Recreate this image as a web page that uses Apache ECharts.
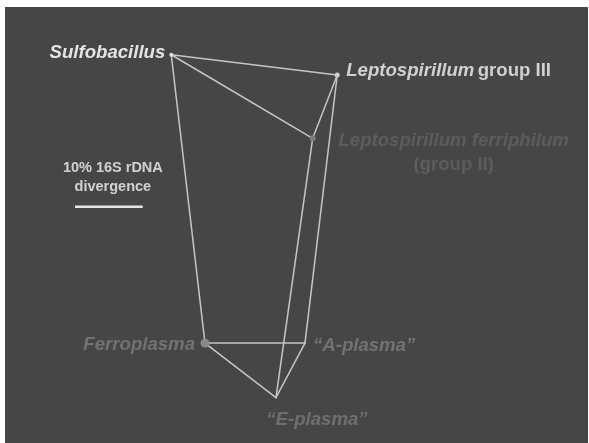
<!DOCTYPE html>
<html>
<head>
<meta charset="utf-8">
<script src="https://cdn.jsdelivr.net/npm/echarts@6/dist/echarts.min.js"></script>
<style>html,body{margin:0;padding:0;background:#fff}#c{width:589px;height:443px}</style>
</head>
<body>
<div id="c"></div>
<script>
// Node positions in units of % 16S rDNA divergence (same scale on both axes)
const nodeNames = ['Sulfobacillus', 'Leptospirillum group III', 'Leptospirillum ferriphilum', 'Ferroplasma', 'A-plasma', 'E-plasma'];
const nodeX = [24.56, 49.08, 45.45, 29.54, 44.31, 40.03];
const nodeY = [7.05, 10.04, 19.39, 49.65, 49.65, 57.71];
const edgeSource = ['Sulfobacillus', 'Sulfobacillus', 'Sulfobacillus', 'Leptospirillum group III', 'Leptospirillum group III', 'Leptospirillum ferriphilum', 'Ferroplasma', 'Ferroplasma', 'A-plasma'];
const edgeTarget = ['Leptospirillum group III', 'Leptospirillum ferriphilum', 'Ferroplasma', 'Leptospirillum ferriphilum', 'A-plasma', 'E-plasma', 'A-plasma', 'E-plasma', 'E-plasma'];
const scaleBarX = [10.34, 20.34];
const scaleBarY = [29.5, 29.5];
const scaleLabel = '10% 16S rDNA\ndivergence';
const xRange = [0, 86.12];
const yRange = [0, 64.4];

const FONT = '"Liberation Sans", Arial, Helvetica, sans-serif';
const FS = 18.6;
const bi = {fontFamily: FONT, fontWeight: 'bold', fontStyle: 'italic', fontSize: FS};
const styles = {
  'Sulfobacillus': {sym: 4, col: '#dcdcdc', label: {formatter: '{i|Sulfobacillus}', align: 'right', offset: [-6, -2], rich: {i: Object.assign({}, bi, {color: '#e4e4e4'})}}},
  'Leptospirillum group III': {sym: 5, col: '#cfcfcf', label: {formatter: '{i|Leptospirillum} {b|group III}', align: 'left', offset: [9, -4], rich: {i: Object.assign({}, bi, {color: '#d0d0d0'}), b: {fontFamily: FONT, fontWeight: 'bold', fontSize: FS, color: '#d0d0d0'}}}},
  'Leptospirillum ferriphilum': {sym: 6, col: '#7c7c7c', label: {formatter: '{i|Leptospirillum ferriphilum}\n{b|(group II)}', align: 'center', offset: [141, 15], rich: {i: Object.assign({}, bi, {color: '#5c5c5c', lineHeight: 24, align: 'center'}), b: {fontFamily: FONT, fontWeight: 'bold', fontSize: FS, color: '#5c5c5c', lineHeight: 24, align: 'center'}}}},
  'Ferroplasma': {sym: 9, col: '#8a8a8a', label: {formatter: '{i|Ferroplasma}', align: 'right', offset: [-10, 2], rich: {i: Object.assign({}, bi, {color: '#727272'})}}},
  'A-plasma': {sym: 2, col: '#c4c4c4', label: {formatter: '{i|\u201cA-plasma\u201d}', align: 'left', offset: [8, 3], rich: {i: Object.assign({}, bi, {color: '#727272'})}}},
  'E-plasma': {sym: 2, col: '#c4c4c4', label: {formatter: '{i|\u201cE-plasma\u201d}', align: 'center', offset: [41, 22], rich: {i: Object.assign({}, bi, {color: '#6e6e6e'})}}}
};

const nodes = nodeNames.map((n, i) => {
  const s = styles[n];
  return {
    name: n,
    value: [nodeX[i], nodeY[i]],
    symbolSize: s.sym,
    itemStyle: {color: s.col},
    label: Object.assign({show: true, position: 'inside', verticalAlign: 'middle'}, s.label)
  };
});
const links = edgeSource.map((s, i) => ({source: s, target: edgeTarget[i]}));

const chart = echarts.init(document.getElementById('c'), null, {renderer: 'canvas'});
chart.setOption({
  animation: false,
  backgroundColor: '#ffffff',
  grid: {show: true, left: 5, top: 7, right: 1, bottom: 0, backgroundColor: '#464646', borderWidth: 0},
  xAxis: {type: 'value', min: xRange[0], max: xRange[1], show: false},
  yAxis: {type: 'value', min: yRange[0], max: yRange[1], inverse: true, show: false},
  series: [
    {
      type: 'graph',
      coordinateSystem: 'cartesian2d',
      data: nodes,
      links: links,
      symbol: 'circle',
      z: 3,
      lineStyle: {color: '#c6c6c6', width: 1.5, opacity: 1, curveness: 0},
      emphasis: {disabled: true}
    },
    {
      type: 'line',
      data: scaleBarX.map((x, i) => [x, scaleBarY[i]]),
      symbol: 'none',
      lineStyle: {color: '#e6e6e6', width: 2.5},
      silent: true
    },
    {
      type: 'scatter',
      data: [[(scaleBarX[0] + scaleBarX[1]) / 2, scaleBarY[0]]],
      symbolSize: 0,
      silent: true,
      label: {
        show: true, position: 'inside', formatter: scaleLabel,
        align: 'center', verticalAlign: 'middle', offset: [4, -29],
        color: '#f2f2f2', fontFamily: FONT, fontWeight: 'bold', fontSize: 14.5, lineHeight: 19
      }
    }
  ]
});
</script>
</body>
</html>
